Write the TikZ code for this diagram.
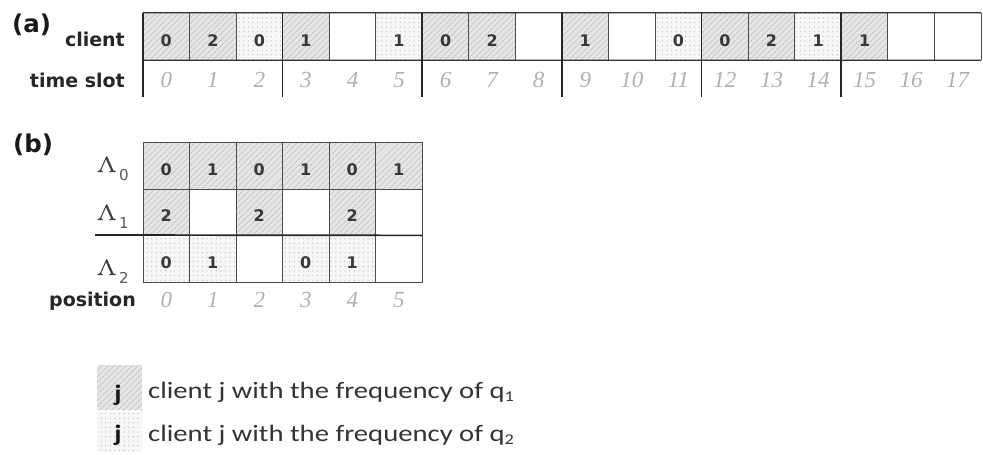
\documentclass[tikz,border=0pt]{standalone}
\usepackage{fontspec}
\usepackage{graphicx}
\setmainfont{Carlito}[FakeStretch=1.22]
\newfontfamily\digfont{DejaVu Sans}
\newfontfamily\slotfont{Liberation Serif}
\newfontfamily\lamfont{Latin Modern Roman}[FakeStretch=1.35,FakeBold=1.2]
\usetikzlibrary{patterns.meta}
\tikzset{
  cellbase/.style={minimum width=46.5pt, minimum height=47pt, inner sep=0pt,
    text height=19pt, text depth=0pt,
    font=\digfont\bfseries\fontsize{16}{16}\selectfont, text=black!78},
  hcell/.style={cellbase, preaction={fill=gray!20},
    pattern={Lines[angle=45,distance=4pt,line width=0.55pt]}, pattern color=gray!62},
  dcell/.style={cellbase, preaction={fill=gray!6},
    pattern={Dots[distance=4.6pt,radius=0.6pt]}, pattern color=gray!60},
  ecell/.style={cellbase},
  thinl/.style={draw=black!70, line width=0.8pt},
  thickl/.style={draw=black!85, line width=1.7pt},
  hline/.style={draw=black!80, line width=1.2pt},
  lbl/.style={font=\digfont\bfseries\fontsize{19}{19}\selectfont, text=black!85, inner sep=0pt},
  plbl/.style={font=\digfont\bfseries\fontsize{24.5}{24.5}\selectfont, text=black!90, inner sep=0pt},
  slot/.style={font=\slotfont\itshape\fontsize{23}{23}\selectfont, text=gray!62, inner sep=0pt},
  lam/.style={inner sep=0pt, text=black!75, font=\lamfont\fontsize{22}{22}\selectfont},
  lamsub/.style={inner sep=0pt, text=black!65, font=\digfont\fontsize{15}{15}\selectfont},
  legtext/.style={font=\fontsize{23.5}{23.5}\selectfont, text=black!80, inner sep=0pt},
  legj/.style={font=\bfseries\fontsize{23.5}{23.5}\selectfont, text=black!90, anchor=base, inner sep=0pt}
}
\newcommand{\qsub}[1]{\raisebox{-0.3ex}{\fontsize{15}{15}\selectfont #1}}
\begin{document}
\begin{tikzpicture}[x=1pt,y=-1pt]
\useasboundingbox (0,0) rectangle (983,455);

% ---------- (a) ----------
\foreach \s/\v [count=\i from 0] in {hcell/0,hcell/2,dcell/0,hcell/1,ecell/{},dcell/1,hcell/0,hcell/2,ecell/{},hcell/1,ecell/{},dcell/0,hcell/0,hcell/2,dcell/1,hcell/1,ecell/{},ecell/{}}
  \node[\s] (c\i) at ({143+46.556*(\i+0.5)},36.5) {\v};
\foreach \i in {0,...,17}
  \node[slot] (t\i) at ({143+46.556*(\i+0.5)},80) {\i};

\foreach \i in {1,2,4,5,7,8,10,11,13,14,16,17}
  \draw[thinl] (c\i.north west) -- (c\i.south west);
\draw[thinl] (c17.north east) -- (c17.south east);
\draw[hline] (c0.north west) -- (c17.north east);
\draw[hline] (c0.south west) -- (c17.south east);
\foreach \i in {0,3,6,9,12,15}
  \draw[thickl] (c\i.north west) -- ++(0,84);

\node[plbl, anchor=base west] (la) at (12,32) {(a)};
\node[lbl, anchor=base east] (lc) at (125,46) {client};
\node[lbl, anchor=base east] (lt) at (125,87) {time slot};

% ---------- (b) ----------
\foreach \s/\v [count=\i from 0] in {hcell/0,hcell/1,hcell/0,hcell/1,hcell/0,hcell/1}
  \node[\s, draw=black!70, line width=0.8pt] (ba\i) at ({143+46.5*(\i+0.5)},165.5) {\v};
\foreach \s/\v [count=\i from 0] in {hcell/2,ecell/{},hcell/2,ecell/{},hcell/2,ecell/{}}
  \node[\s, draw=black!70, line width=0.8pt, minimum height=46pt] (bb\i) at ({143+46.5*(\i+0.5)},212) {\v};
\foreach \s/\v [count=\i from 0] in {dcell/0,dcell/1,ecell/{},dcell/0,dcell/1,ecell/{}}
  \node[\s, draw=black!70, line width=0.8pt] (bc\i) at ({143+46.5*(\i+0.5)},258.5) {\v};
\foreach \i in {0,...,5}
  \node[slot] (p\i) at ({143+46.5*(\i+0.5)},300) {\i};

\coordinate (thk) at (95,235);
\draw[thickl] (thk) -- (bb5.south east);

\node[plbl, anchor=base west] (lb) at (13,152) {(b)};
\node[lam, anchor=base west] (l0) at (97,172) {Λ};
\node[lamsub, anchor=base west] (s0) at (119,180) {0};
\node[lam, anchor=base west] (l1) at (97,220) {Λ};
\node[lamsub, anchor=base west] (s1) at (119,228) {1};
\node[lam, anchor=base west] (l2) at (97,275) {Λ};
\node[lamsub, anchor=base west] (s2) at (119,283) {2};
\node[lbl, anchor=base east] (lp) at (136,306) {position};

% ---------- legend ----------
\node[hcell, minimum width=45pt, minimum height=45pt, anchor=north west] (k1) at (97,365) {};
\node[dcell, minimum width=45pt, minimum height=40pt, anchor=north west] (k2) at (97,412) {};
\node[legj] (j1) at (118,401) {j};
\node[legj] (j2) at (118,441) {j};
\node[legtext, anchor=base west] (g1) at (148,398) {client j with the frequency of q\qsub{1}};
\node[legtext, anchor=base west] (g2) at (148,441) {client j with the frequency of q\qsub{2}};
\end{tikzpicture}
\end{document}
